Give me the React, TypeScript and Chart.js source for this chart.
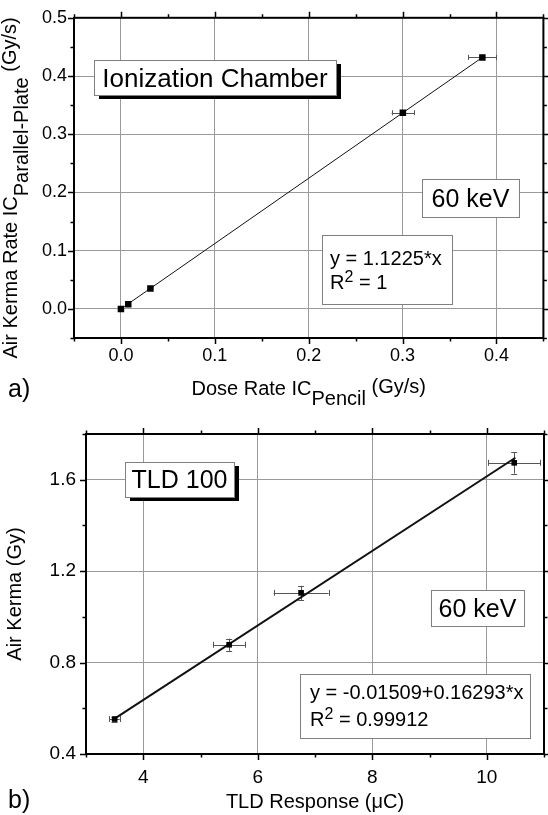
import React, { useEffect, useRef } from "react";
import { Chart, registerables } from "chart.js";
Chart.register(...registerables);

const FONT = "'Liberation Sans', Arial, Helvetica, sans-serif";

// ---------- Panel a) : ionization chamber ----------
const A_X = [0, 0.0078, 0.0314, 0.3003, 0.385];
const A_Y = [0, 0.008, 0.035, 0.337, 0.432];
const A_XERR = [0, 0, 0, 0.012, 0.015];
const A_YERR = [0, 0, 0, 0, 0];
const A_FIT_X = [0, 0.385];
const A_FIT_Y = [0, 0.432];
const A_XTICKS = [0, 0.1, 0.2, 0.3, 0.4];
const A_XMINOR = [-0.05, 0.05, 0.15, 0.25, 0.35, 0.45];
const A_YTICKS = [0, 0.1, 0.2, 0.3, 0.4, 0.5];
const A_YMINOR = [-0.05, 0.05, 0.15, 0.25, 0.35, 0.45];

// ---------- Panel b) : TLD 100 ----------
const B_X = [3.5, 5.5, 6.757, 10.48];
const B_Y = [0.553, 0.878, 1.105, 1.674];
const B_XERR = [0.09, 0.276, 0.48, 0.45];
const B_YERR = [0.011, 0.027, 0.031, 0.047];
const B_FIT_X = [3.5, 10.5];
const B_FIT_Y = [0.555, 1.696];
const B_XTICKS = [4, 6, 8, 10];
const B_XMINOR = [3, 5, 7, 9, 11];
const B_YTICKS = [0.4, 0.8, 1.2, 1.6];
const B_YMINOR = [0.6, 1.0, 1.4, 1.8];

type Seg = { t: string; dy?: number; size?: number };
type Box = {
  x0: number; y0: number; x1: number; y1: number;
  lines: Seg[][]; size: number; align: "center" | "left"; pad?: number;
  base?: number[]; shadow?: boolean;
};

function segsWidth(ctx: CanvasRenderingContext2D, segs: Seg[], base: number) {
  let w = 0;
  for (const s of segs) {
    ctx.font = `${s.size ?? base}px ${FONT}`;
    w += ctx.measureText(s.t).width;
  }
  return w;
}
function drawSegs(ctx: CanvasRenderingContext2D, segs: Seg[], x: number, y: number, base: number) {
  let cx = x;
  for (const s of segs) {
    ctx.font = `${s.size ?? base}px ${FONT}`;
    ctx.fillText(s.t, cx, y + (s.dy ?? 0));
    cx += ctx.measureText(s.t).width;
  }
}

const decor = {
  id: "decor",
  beforeDatasetsDraw(chart: any, _a: any, o: any) {
    const ctx: CanvasRenderingContext2D = chart.ctx;
    const xs = chart.scales.x, ys = chart.scales.y;
    // boxes
    for (const b of o.boxes as Box[]) {
      const L = Math.round(xs.getPixelForValue(b.x0));
      const R = Math.round(xs.getPixelForValue(b.x1));
      const T = Math.round(ys.getPixelForValue(b.y0));
      const B = Math.round(ys.getPixelForValue(b.y1));
      ctx.save();
      if (b.shadow) {
        ctx.fillStyle = "#000";
        ctx.fillRect(L + 5, T + 4, R - L, B - T);
      }
      ctx.fillStyle = "#fff";
      ctx.fillRect(L, T, R - L, B - T);
      ctx.strokeStyle = "#808080";
      ctx.lineWidth = 1;
      ctx.strokeRect(L + 0.5, T + 0.5, R - L, B - T);
      ctx.fillStyle = "#000";
      ctx.textAlign = "left";
      ctx.textBaseline = "alphabetic";
      b.lines.forEach((line, i) => {
        const w = segsWidth(ctx, line, b.size);
        const x = b.align === "center" ? (L + R) / 2 - w / 2 : L + (b.pad ?? 8);
        const y = b.base ? T + b.base[i] : (T + B) / 2 + b.size * 0.716 / 2;
        drawSegs(ctx, line, x, y, b.size);
      });
      ctx.restore();
    }
    // error bars
    const e = o.err;
    ctx.save();
    ctx.strokeStyle = "#555";
    ctx.lineWidth = 1;
    ctx.beginPath();
    for (let i = 0; i < e.x.length; i++) {
      const px = xs.getPixelForValue(e.x[i]);
      const py = ys.getPixelForValue(e.y[i]);
      if (e.xe[i] > 0) {
        const a = xs.getPixelForValue(e.x[i] - e.xe[i]);
        const c = xs.getPixelForValue(e.x[i] + e.xe[i]);
        const yy = Math.round(py) + 0.5;
        ctx.moveTo(a, yy); ctx.lineTo(c, yy);
        ctx.moveTo(Math.round(a) + 0.5, py - e.cap); ctx.lineTo(Math.round(a) + 0.5, py + e.cap);
        ctx.moveTo(Math.round(c) + 0.5, py - e.cap); ctx.lineTo(Math.round(c) + 0.5, py + e.cap);
      }
      if (e.ye[i] > 0) {
        const a = ys.getPixelForValue(e.y[i] - e.ye[i]);
        const c = ys.getPixelForValue(e.y[i] + e.ye[i]);
        const xx = Math.round(px) + 0.5;
        ctx.moveTo(xx, a); ctx.lineTo(xx, c);
        ctx.moveTo(px - e.cap, Math.round(a) + 0.5); ctx.lineTo(px + e.cap, Math.round(a) + 0.5);
        ctx.moveTo(px - e.cap, Math.round(c) + 0.5); ctx.lineTo(px + e.cap, Math.round(c) + 0.5);
      }
    }
    ctx.stroke();
    ctx.restore();
  },
  afterDraw(chart: any, _a: any, o: any) {
    const ctx: CanvasRenderingContext2D = chart.ctx;
    const xs = chart.scales.x, ys = chart.scales.y;
    const ca = chart.chartArea;
    ctx.save();
    // frame
    ctx.strokeStyle = "#000";
    ctx.lineWidth = 2;
    ctx.strokeRect(ca.left, ca.top, ca.right - ca.left, ca.bottom - ca.top);
    // ticks
    ctx.beginPath();
    const tx = (v: number, len: number) => {
      const p = Math.round(xs.getPixelForValue(v)) + 0.5;
      ctx.moveTo(p, ca.bottom); ctx.lineTo(p, ca.bottom + len);
      ctx.moveTo(p, ca.top); ctx.lineTo(p, ca.top - len);
    };
    const ty = (v: number, len: number) => {
      const p = Math.round(ys.getPixelForValue(v)) + 0.5;
      ctx.moveTo(ca.left, p); ctx.lineTo(ca.left - len, p);
      ctx.moveTo(ca.right, p); ctx.lineTo(ca.right + len, p);
    };
    o.xMajor.forEach((v: number) => tx(v, 6));
    o.xMinor.forEach((v: number) => tx(v, 3.5));
    o.yMajor.forEach((v: number) => ty(v, 6));
    o.yMinor.forEach((v: number) => ty(v, 3.5));
    ctx.lineWidth = 1.5;
    ctx.stroke();
    // titles
    ctx.fillStyle = "#000";
    ctx.textAlign = "left";
    ctx.textBaseline = "alphabetic";
    const xt = o.xTitle;
    const wx = segsWidth(ctx, xt.segs, xt.size);
    drawSegs(ctx, xt.segs, (ca.left + ca.right) / 2 - wx / 2 + (xt.shift ?? 0), xt.baseline, xt.size);
    const yt = o.yTitle;
    const wy = segsWidth(ctx, yt.segs, yt.size);
    ctx.save();
    ctx.translate(yt.baseline, (ca.top + ca.bottom) / 2 + (yt.shift ?? 0));
    ctx.rotate(-Math.PI / 2);
    drawSegs(ctx, yt.segs, -wy / 2, 0, yt.size);
    ctx.restore();
    // panel label
    ctx.font = `25px ${FONT}`;
    ctx.fillText(o.panel.text, o.panel.x, o.panel.y);
    ctx.restore();
  },
};

type PanelProps = {
  width: number; height: number;
  xs: number[]; ys: number[]; xe: number[]; ye: number[];
  fx: number[]; fy: number[];
  xMin: number; xMax: number; yMin: number; yMax: number;
  xTicks: number[]; xMinor: number[]; yTicks: number[]; yMinor: number[];
  xFmt: (v: number) => string; yFmt: (v: number) => string;
  padTop: number; yWidth: number; xHeight: number;
  tickSize: number; xPad: number; yPad: number;
  pointR: number; fitWidth: number; cap: number;
  boxes: Box[]; xTitle: any; yTitle: any; panel: any;
};

function Panel(p: PanelProps) {
  const ref = useRef<HTMLCanvasElement>(null);
  useEffect(() => {
    if (!ref.current) return;
    const tickFont = { family: FONT, size: p.tickSize };
    const chart = new Chart(ref.current, {
      type: "scatter",
      data: {
        datasets: [
          {
            data: p.xs.map((x, i) => ({ x, y: p.ys[i] })),
            pointStyle: "rect",
            pointRadius: p.pointR,
            backgroundColor: "#000",
            borderColor: "#000",
            borderWidth: 0,
            showLine: false,
          } as any,
          {
            data: p.fx.map((x, i) => ({ x, y: p.fy[i] })),
            showLine: true,
            pointRadius: 0,
            borderColor: "#111",
            borderWidth: p.fitWidth,
            fill: false,
          } as any,
        ],
      },
      options: {
        animation: false,
        responsive: false,
        maintainAspectRatio: false,
        layout: { padding: { left: 0, right: 2, top: p.padTop, bottom: 0 } },
        plugins: {
          legend: { display: false },
          tooltip: { enabled: false },
          decor: {
            boxes: p.boxes,
            err: { x: p.xs, y: p.ys, xe: p.xe, ye: p.ye, cap: p.cap },
            xMajor: p.xTicks, xMinor: p.xMinor, yMajor: p.yTicks, yMinor: p.yMinor,
            xTitle: p.xTitle, yTitle: p.yTitle, panel: p.panel,
          },
        } as any,
        scales: {
          x: {
            type: "linear",
            min: p.xMin,
            max: p.xMax,
            afterBuildTicks: (s: any) => { s.ticks = p.xTicks.map((v) => ({ value: v })); },
            afterFit: (s: any) => { s.height = p.xHeight; },
            grid: { color: "#9a9a9a", lineWidth: 1, drawTicks: false },
            border: { display: false },
            ticks: { font: tickFont, color: "#000", padding: p.xPad, maxRotation: 0, autoSkip: false, callback: (v: any) => p.xFmt(Number(v)) },
          },
          y: {
            type: "linear",
            min: p.yMin,
            max: p.yMax,
            afterBuildTicks: (s: any) => { s.ticks = p.yTicks.map((v) => ({ value: v })); },
            afterFit: (s: any) => { s.width = p.yWidth; },
            grid: { color: "#9a9a9a", lineWidth: 1, drawTicks: false },
            border: { display: false },
            ticks: { font: tickFont, color: "#000", padding: p.yPad, autoSkip: false, callback: (v: any) => p.yFmt(Number(v)) },
          },
        } as any,
      },
      plugins: [decor as any],
    });
    return () => chart.destroy();
  }, []);
  return <canvas ref={ref} width={p.width} height={p.height} style={{ display: "block", width: p.width, height: p.height }} />;
}

export default function App() {
  const f1 = (v: number) => v.toFixed(1);
  return (
    <div style={{ position: "absolute", left: 0, top: 0, width: 548, height: 815, background: "#fff" }}>
      <Panel
        width={548} height={410}
        xs={A_X} ys={A_Y} xe={A_XERR} ye={A_YERR} fx={A_FIT_X} fy={A_FIT_Y}
        xMin={-0.05} xMax={0.45} yMin={-0.05} yMax={0.5}
        xTicks={A_XTICKS} xMinor={A_XMINOR} yTicks={A_YTICKS} yMinor={A_YMINOR}
        xFmt={f1} yFmt={f1}
        padTop={15} yWidth={74} xHeight={72}
        tickSize={18} xPad={7} yPad={7}
        pointR={4.6} fitWidth={1} cap={2.5}
        boxes={[
          { x0: -0.0285, y0: 0.4281, x1: 0.2289, y1: 0.3671, lines: [[{ t: "Ionization Chamber" }]], size: 26, align: "center", shadow: true },
          { x0: 0.3204, y0: 0.2231, x1: 0.4244, y1: 0.1575, lines: [[{ t: "60 keV" }]], size: 25, align: "center" },
          { x0: 0.2141, y0: 0.1267, x1: 0.353, y1: 0.0091, lines: [[{ t: "y = 1.1225*x" }], [{ t: "R" }, { t: "2", dy: -7, size: 16 }, { t: " = 1" }]], size: 20, align: "left", pad: 8, base: [30, 54] },
        ]}
        xTitle={{ segs: [{ t: "Dose Rate IC" }, { t: "Pencil", dy: 10 }, { t: " (Gy/s)", dy: -2 }], size: 20, baseline: 395 }}
        yTitle={{ segs: [{ t: "Air Kerma Rate IC" }, { t: "Parallel-Plate", dy: 11 }, { t: " (Gy/s)", dy: -1 }], size: 20, baseline: 17, shift: 10 }}
        panel={{ text: "a)", x: 8, y: 397 }}
      />
      <Panel
        width={548} height={405}
        xs={B_X} ys={B_Y} xe={B_XERR} ye={B_YERR} fx={B_FIT_X} fy={B_FIT_Y}
        xMin={3} xMax={11} yMin={0.4} yMax={1.8}
        xTicks={B_XTICKS} xMinor={B_XMINOR} yTicks={B_YTICKS} yMinor={B_YMINOR}
        xFmt={(v) => String(Math.round(v))} yFmt={f1}
        padTop={24} yWidth={86} xHeight={61}
        tickSize={19} xPad={12} yPad={10}
        pointR={4} fitWidth={2} cap={3}
        boxes={[
          { x0: 3.679, y0: 1.676, x1: 5.588, y1: 1.525, lines: [[{ t: "TLD 100" }]], size: 25, align: "center", shadow: true },
          { x0: 9.03, y0: 1.119, x1: 10.65, y1: 0.962, lines: [[{ t: "60 keV" }]], size: 25, align: "center" },
          { x0: 6.739, y0: 0.75, x1: 10.758, y1: 0.47, lines: [[{ t: "y = -0.01509+0.16293*x" }], [{ t: "R" }, { t: "2", dy: -7, size: 16 }, { t: " = 0.99912" }]], size: 20, align: "left", pad: 10, base: [25, 52] },
        ]}
        xTitle={{ segs: [{ t: "TLD Response (μC)" }], size: 20, baseline: 398 }}
        yTitle={{ segs: [{ t: "Air Kerma (Gy)" }], size: 20, baseline: 21, shift: 0 }}
        panel={{ text: "b)", x: 8, y: 398 }}
      />
    </div>
  );
}
